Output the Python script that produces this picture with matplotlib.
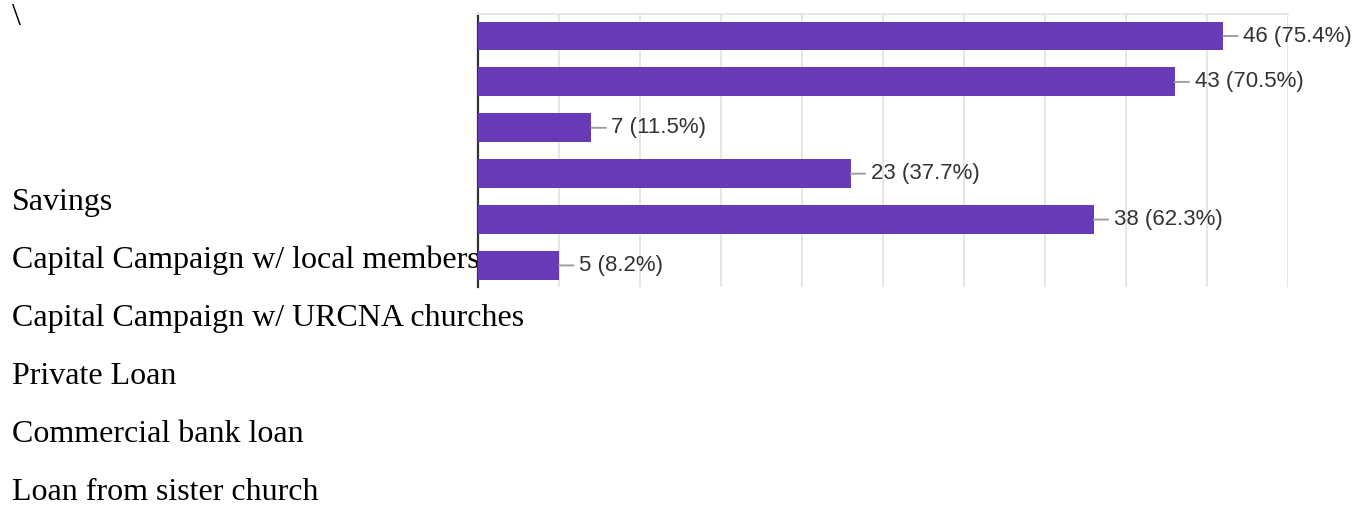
import matplotlib
matplotlib.use("Agg")
import matplotlib.pyplot as plt

# ---- data ----
counts = [46, 43, 7, 23, 38, 5]
percents = [75.4, 70.5, 11.5, 37.7, 62.3, 8.2]
side_labels = [
    "Savings",
    "Capital Campaign w/ local members",
    "Capital Campaign w/ URCNA churches",
    "Private Loan",
    "Commercial bank loan",
    "Loan from sister church",
]
x_ticks = list(range(0, 51, 5))

W, H, DPI = 1363, 508, 100
fig = plt.figure(figsize=(W / DPI, H / DPI), dpi=DPI)
fig.patch.set_facecolor("white")

# axes placement (pixels)
ax_l, ax_r, ax_t, ax_b = 478, 1288, 14, 287
ax = fig.add_axes([ax_l / W, 1 - ax_b / H, (ax_r - ax_l) / W, (ax_b - ax_t) / H])
ax.set_facecolor("white")
ax.set_zorder(1)

pos = list(range(len(counts)))
ax.barh(pos, counts, height=0.63, color="#673ab7", zorder=3)
ax.set_xlim(0, 50)
ax.set_ylim(5.47, -0.48)

ax.set_xticks(x_ticks)
ax.set_yticks([])
ax.tick_params(axis="x", length=0, labelbottom=False)
ax.grid(axis="x", color="#e6e6e6", linewidth=1.4, zorder=0)

for s in ["right", "bottom"]:
    ax.spines[s].set_visible(False)
ax.spines["top"].set_color("#e6e6e6")
ax.spines["top"].set_linewidth(1.4)
ax.spines["left"].set_color("#333333")
ax.spines["left"].set_linewidth(1.6)

label_font = ["Liberation Sans", "DejaVu Sans"]
for p, c, pc in zip(pos, counts, percents):
    ax.annotate(
        f"{c} ({pc}%)",
        xy=(c, p),
        xytext=(20, 0),
        textcoords="offset pixels",
        ha="left",
        va="center",
        fontsize=16,
        family=label_font,
        color="#333333",
        annotation_clip=False,
        arrowprops=dict(arrowstyle="-", color="#9e9e9e", lw=1.4,
                        shrinkA=2, shrinkB=0, relpos=(0, 0.5)),
        zorder=4,
    )

# serif labels in the left area, drawn beneath the axes
serif = ["Liberation Serif", "DejaVu Serif"]
fig.text(12 / W, 1 - 25 / H, "\\", family=serif, fontsize=23,
         ha="left", va="baseline", zorder=-1)
base0, step = 210, 58
for i, lab in enumerate(side_labels):
    y = base0 + i * step
    fig.text(12 / W, 1 - y / H, lab, family=serif, fontsize=23,
             ha="left", va="baseline", color="black", zorder=-1)

fig.savefig("out.png", dpi=DPI, facecolor="white")
